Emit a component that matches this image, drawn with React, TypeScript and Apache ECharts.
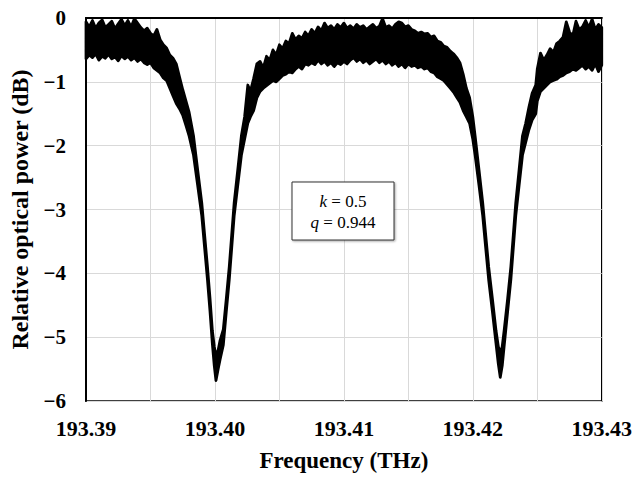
import React, { useEffect, useRef } from "react";
import * as echarts from "echarts";

// Frequency (THz) sample positions
const freq: number[] = [
  193.39, 193.39025, 193.3905, 193.39075, 193.391, 193.39125, 193.3915, 193.39175,
  193.392, 193.39225, 193.3925, 193.39275, 193.393, 193.39325, 193.3935, 193.39375,
  193.394, 193.39425, 193.3945, 193.39475, 193.395, 193.39525, 193.3955, 193.39575,
  193.396, 193.39625, 193.3965, 193.39675, 193.397, 193.39725, 193.3975, 193.39775,
  193.398, 193.39834, 193.39866, 193.39898, 193.3992, 193.39942, 193.39962, 193.3998,
  193.39995, 193.40008, 193.40025, 193.4004, 193.40065, 193.40088, 193.40111, 193.4013,
  193.40149, 193.40177, 193.40205, 193.4023, 193.40255, 193.40275, 193.403, 193.40325,
  193.4035, 193.40375, 193.404, 193.40425, 193.4045, 193.40475, 193.405, 193.40525,
  193.4055, 193.40575, 193.406, 193.40625, 193.4065, 193.40675, 193.407, 193.40725,
  193.4075, 193.40775, 193.408, 193.40825, 193.4085, 193.40875, 193.409, 193.40925,
  193.4095, 193.40975, 193.41, 193.41025, 193.4105, 193.41075, 193.411, 193.41125,
  193.4115, 193.41175, 193.412, 193.41225, 193.4125, 193.41275, 193.413, 193.41325,
  193.4135, 193.41375, 193.414, 193.41425, 193.4145, 193.41475, 193.415, 193.41525,
  193.4155, 193.41575, 193.416, 193.41625, 193.4165, 193.41675, 193.417, 193.41725,
  193.4175, 193.41775, 193.418, 193.41825, 193.4185, 193.41875, 193.419, 193.41925,
  193.4195, 193.41975, 193.42, 193.42018, 193.42048, 193.42077, 193.421, 193.42123,
  193.42152, 193.4218, 193.42198, 193.42213, 193.42228, 193.42244, 193.4227, 193.42295,
  193.42314, 193.42333, 193.42359, 193.42385, 193.4241, 193.42435, 193.4246, 193.42488,
  193.425, 193.42525, 193.4255, 193.42575, 193.426, 193.42625, 193.4265, 193.42675,
  193.427, 193.42725, 193.4275, 193.42775, 193.428, 193.42825, 193.4285, 193.42875,
  193.429, 193.42925, 193.4295, 193.42975, 193.43,
];

// Upper envelope of the measured (noisy) trace, dB
const upper: number[] = [
  -0.06, -0.14, -0.04, -0.16, -0.08, -0.03, -0.15, -0.1,
  -0.05, -0.17, -0.09, -0.02, -0.12, -0.04, -0.14, -0.01,
  -0.08, -0.15, -0.2, -0.16, -0.24, -0.28, -0.18, -0.34,
  -0.42, -0.47, -0.58, -0.63, -0.72, -0.92, -1.12, -1.3,
  -1.48, -1.85, -2.38, -2.9, -3.4, -3.9, -4.4, -4.9,
  -5.15, -5.3, -5.2, -5.05, -4.88, -4.4, -3.9, -3.4,
  -2.9, -2.38, -1.85, -1.55, -1.05, -1.15, -0.95, -0.72,
  -0.68, -0.78, -0.6, -0.66, -0.5, -0.58, -0.42, -0.48,
  -0.36, -0.4, -0.24, -0.34, -0.28, -0.32, -0.22, -0.28,
  -0.18, -0.24, -0.14, -0.2, -0.08, -0.16, -0.12, -0.18,
  -0.1, -0.15, -0.08, -0.16, -0.12, -0.17, -0.1, -0.15,
  -0.12, -0.18, -0.14, -0.1, -0.16, -0.13, -0.01, -0.15,
  -0.12, -0.17, -0.1, -0.06, -0.08, -0.14, -0.12, -0.18,
  -0.2, -0.24, -0.22, -0.25, -0.24, -0.3, -0.28, -0.36,
  -0.38, -0.44, -0.46, -0.52, -0.56, -0.62, -0.7, -0.88,
  -1.1, -1.25, -1.55, -1.85, -2.38, -2.9, -3.4, -3.9,
  -4.4, -4.9, -5.15, -5.25, -5.15, -4.88, -4.4, -3.9,
  -3.4, -2.9, -2.38, -1.85, -1.65, -1.4, -1.18, -1.05,
  -0.8, -0.55, -0.66, -0.58, -0.48, -0.54, -0.4, -0.36,
  -0.3, -0.06, -0.22, -0.28, -0.05, -0.18, -0.14, -0.04,
  -0.15, -0.02, -0.18, -0.1, -0.15,
];

// Lower envelope of the measured (noisy) trace, dB
const lower: number[] = [
  -0.64, -0.58, -0.62, -0.56, -0.66, -0.6, -0.63, -0.57,
  -0.64, -0.61, -0.67, -0.59, -0.64, -0.6, -0.66, -0.62,
  -0.68, -0.64, -0.7, -0.73, -0.7, -0.78, -0.82, -0.86,
  -0.94, -0.98, -1.1, -1.22, -1.34, -1.42, -1.52, -1.68,
  -1.85, -2.15, -2.62, -3.1, -3.6, -4.1, -4.6, -5.1,
  -5.45, -5.68, -5.5, -5.35, -5.12, -4.6, -4.1, -3.6,
  -3.1, -2.62, -2.15, -1.9, -1.65, -1.55, -1.45, -1.25,
  -1.15, -1.1, -1.06, -1.02, -0.98, -1.0, -0.95, -0.9,
  -0.88, -0.84, -0.86, -0.8, -0.76, -0.8, -0.72, -0.74,
  -0.7, -0.73, -0.66, -0.72, -0.68, -0.74, -0.7, -0.76,
  -0.7, -0.73, -0.68, -0.72, -0.66, -0.62, -0.68, -0.64,
  -0.7, -0.66, -0.72, -0.68, -0.64, -0.7, -0.66, -0.72,
  -0.68, -0.74, -0.7, -0.76, -0.72, -0.78, -0.72, -0.76,
  -0.74, -0.78, -0.76, -0.8, -0.78, -0.84, -0.86, -0.92,
  -0.95, -0.98, -1.04, -1.1, -1.16, -1.24, -1.32, -1.45,
  -1.55, -1.65, -1.9, -2.15, -2.62, -3.1, -3.6, -4.1,
  -4.6, -5.1, -5.42, -5.63, -5.45, -5.12, -4.6, -4.1,
  -3.6, -3.1, -2.62, -2.15, -1.95, -1.75, -1.6, -1.5,
  -1.3, -1.15, -1.1, -1.05, -1.0, -0.98, -0.96, -0.92,
  -0.9, -0.86, -0.84, -0.8, -0.82, -0.78, -0.74, -0.8,
  -0.76, -0.82, -0.72, -0.84, -0.74,
];

const xTickLabels: string[] = ["193.39", "193.40", "193.41", "193.42", "193.43"];
const annotation: string[] = ["{i|k} = 0.5", "{i|q} = 0.944"];

const SERIF = "'Liberation Serif', 'Times New Roman', serif";

export default function App() {
  const ref = useRef<HTMLDivElement>(null);
  useEffect(() => {
    if (!ref.current) return;
    const chart = echarts.init(ref.current, null, { renderer: "svg" });
    chart.setOption({
      animation: false,
      backgroundColor: "#ffffff",
      grid: {
        left: 83,
        top: 18,
        width: 520,
        height: 386,
        show: true,
        borderColor: "#000",
        borderWidth: 1.5,
        backgroundColor: "transparent",
      },
      xAxis: {
        type: "value",
        min: 193.39,
        max: 193.43,
        interval: 0.005,
        name: "Frequency (THz)",
        nameLocation: "middle",
        nameGap: 48,
        nameTextStyle: { fontFamily: SERIF, fontWeight: "bold", fontSize: 23, color: "#000" },
        axisLine: { show: true, lineStyle: { color: "#000", width: 2 } },
        axisTick: { show: false },
        splitLine: { show: true, lineStyle: { color: "#d9d9d9", width: 1 } },
        axisLabel: {
          fontFamily: SERIF,
          fontWeight: "bold",
          fontSize: 22,
          color: "#000",
          margin: 16,
          showMinLabel: true,
          showMaxLabel: true,
          formatter: (v: number) => {
            const idx = Math.round(((v - 193.39) / 0.01) * 1000) / 1000;
            if (Math.abs(idx - Math.round(idx)) < 1e-6) {
              return xTickLabels[Math.round(idx)] ?? "";
            }
            return "";
          },
        },
      },
      yAxis: {
        type: "value",
        min: -6,
        max: 0,
        interval: 1,
        name: "Relative optical power (dB)",
        nameLocation: "middle",
        nameGap: 54,
        nameTextStyle: { fontFamily: SERIF, fontWeight: "bold", fontSize: 24, color: "#000" },
        axisLine: { show: true, lineStyle: { color: "#000", width: 2 } },
        axisTick: { show: false },
        splitLine: { show: true, lineStyle: { color: "#d9d9d9", width: 1 } },
        axisLabel: {
          fontFamily: SERIF,
          fontWeight: "bold",
          fontSize: 21,
          color: "#000",
          margin: 20,
          formatter: (v: number) => (v === 0 ? "0" : "\u2212" + Math.abs(v)),
        },
      },
      series: [
        {
          type: "custom",
          name: "trace",
          coordinateSystem: "cartesian2d",
          data: [[freq[0], upper[0]]],
          encode: { x: 0, y: 1 },
          renderItem: (params: any, api: any) => {
            if (params.dataIndex !== 0) return null;
            const pts: number[][] = [];
            for (let i = 0; i < freq.length; i++) pts.push(api.coord([freq[i], upper[i]]));
            for (let i = freq.length - 1; i >= 0; i--) pts.push(api.coord([freq[i], lower[i]]));
            return {
              type: "polygon",
              shape: { points: pts },
              style: { fill: "#000", stroke: "#000", lineWidth: 2.8, lineJoin: "round" },
            };
          },
          z: 5,
        },
      ],
      graphic: [
        {
          type: "rect",
          z: 100,
          shape: { x: 292, y: 182, width: 102, height: 58 },
          style: {
            fill: "#fff",
            stroke: "#333",
            lineWidth: 1,
            shadowColor: "rgba(0,0,0,0.35)",
            shadowBlur: 2,
            shadowOffsetX: 1,
            shadowOffsetY: 1,
          },
        },
        {
          type: "text",
          z: 101,
          x: 343,
          y: 212,
          style: {
            text: annotation.join("\n"),
            align: "center",
            verticalAlign: "middle",
            fontFamily: SERIF,
            fontSize: 17,
            lineHeight: 21,
            fill: "#000",
            rich: {
              i: { fontStyle: "italic", fontFamily: SERIF, fontSize: 17, lineHeight: 21 },
            },
          },
        },
      ],
    });
    return () => chart.dispose();
  }, []);
  return (
    <div
      ref={ref}
      style={{ position: "fixed", left: 0, top: 0, width: 635, height: 477, background: "#fff" }}
    />
  );
}
